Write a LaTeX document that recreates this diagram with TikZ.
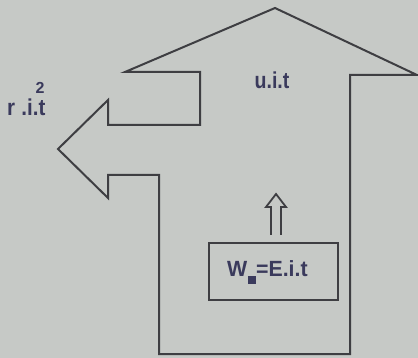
\documentclass[tikz,border=0pt]{standalone}
\usepackage{fontspec}
\setmainfont{Liberation Sans}
\definecolor{bg}{RGB}{198,201,198}
\definecolor{ln}{RGB}{62,62,66}
\definecolor{tx}{RGB}{58,58,92}
\tikzset{
  outline/.style={draw=ln, line width=2pt, line join=miter},
  lbl/.style={text=tx, font=\bfseries\fontsize{23}{23}\selectfont, inner sep=0pt, xscale=0.85},
  wbox/.style={draw=ln, line width=2pt, minimum width=129pt, minimum height=57pt, inner sep=0pt}
}
\begin{document}
\begin{tikzpicture}[x=1pt,y=-1pt]
\fill[bg] (0,0) rectangle (418,358);
\useasboundingbox (0,0) rectangle (418,358);
% main outline
\draw[outline] (275,8) -- (417,75) -- (350,75) -- (350,354) -- (159,354) -- (159,175)
  -- (108,175) -- (108,198) -- (58,149) -- (108,100) -- (108,125) -- (200,125)
  -- (200,72) -- (125,72) -- cycle;
% labels
\node[lbl, anchor=base] (uit) at (272,89) {u.i.t};
\node[lbl, anchor=base west, xscale=1.05] (rit) at (7,116) {r\hspace{7pt}.i.t};
\node[text=tx, font=\bfseries\fontsize{16}{16}\selectfont, inner sep=0pt, anchor=base] (two) at (40,94) {2};
% energy box
\node[wbox] (box) at (273.5,271.5) {};
\node[text=tx, font=\bfseries\fontsize{22}{22}\selectfont, inner sep=0pt, anchor=base west, xscale=0.97] (w) at (227,277)
  {W\hspace{1pt}\raisebox{-7pt}{\rule{8pt}{8pt}}=E.i.t};
% hollow up arrow
\coordinate (ab) at (276,235);
\draw[draw=ln, line width=1.8pt] ([xshift=-5]ab) -- ++(0,-28) -- ++(-5,0) -- ++(10,-13)
  -- ++(10,13) -- ++(-5,0) -- ++(0,28);
\end{tikzpicture}
\end{document}
